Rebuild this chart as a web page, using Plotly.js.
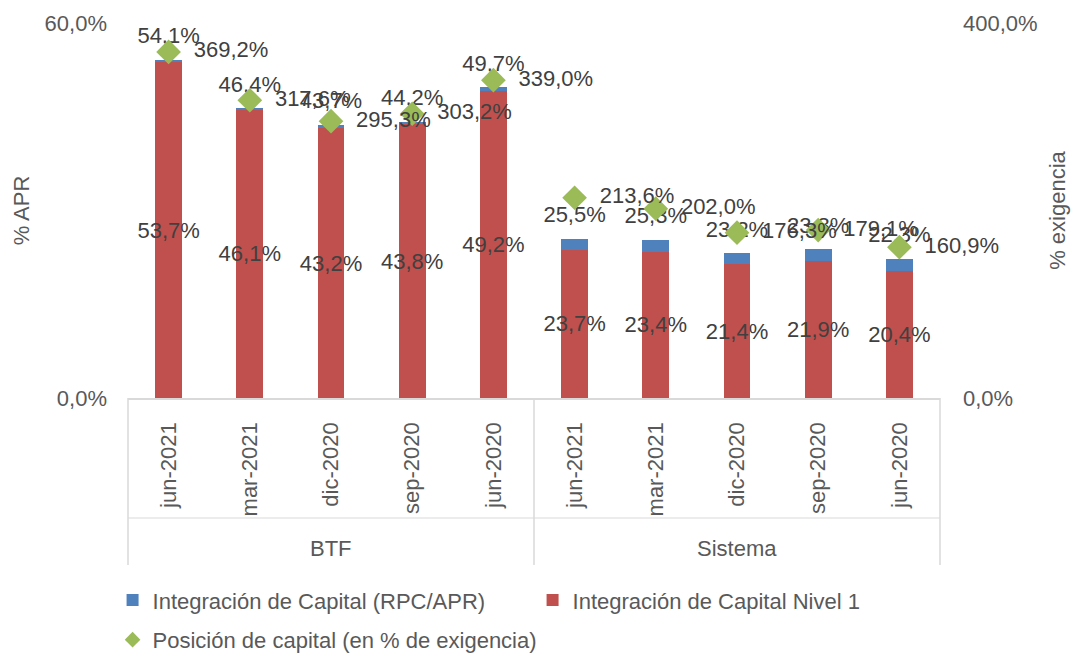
<!DOCTYPE html>
<html><head><meta charset="utf-8">
<script src="https://cdn.plot.ly/plotly-3.0.1.min.js"></script>
<style>html,body{margin:0;padding:0;background:#fff}#chart{width:1075px;height:653px}</style>
</head><body><div id="chart"></div>
<script>
const groups = ['BTF', 'Sistema'];
const periods = ['jun-2021', 'mar-2021', 'dic-2020', 'sep-2020', 'jun-2020'];
const btfRpcApr = [54.1, 46.4, 43.7, 44.2, 49.7];
const btfNivel1 = [53.7, 46.1, 43.2, 43.8, 49.2];
const btfPosicion = [369.2, 317.6, 295.3, 303.2, 339.0];
const sisRpcApr = [25.5, 25.3, 23.2, 23.8, 22.3];
const sisNivel1 = [23.7, 23.4, 21.4, 21.9, 20.4];
const sisPosicion = [213.6, 202.0, 176.3, 179.1, 160.9];
const leftTicks = [0, 60];
const rightTicks = [0, 400];
const seriesNames = ['Integración de Capital (RPC/APR)', 'Integración de Capital Nivel 1', 'Posición de capital (en % de exigencia)'];

const rpc = btfRpcApr.concat(sisRpcApr);
const n1 = btfNivel1.concat(sisNivel1);
const pos = btfPosicion.concat(sisPosicion);
const tickText = periods.concat(periods);
const xs = tickText.map((_, i) => i);
const diff = rpc.map((v, i) => +(v - n1[i]).toFixed(2));
const fmt = v => v.toFixed(1).replace('.', ',') + '%';
const nb = '\u00A0\u00A0';

const FONT = 'Liberation Sans, Arial, sans-serif';
const LBL = '#404040', AX = '#595959', LINE = '#d9d9d9';

const traces = [
  { type: 'bar', x: xs, y: n1, name: seriesNames[1], legendrank: 2,
    marker: { color: '#c0504d', line: { width: 0 } }, width: 0.33,
    text: n1.map(fmt), textposition: 'inside', insidetextanchor: 'middle',
    constraintext: 'none', textangle: 0,
    insidetextfont: { family: FONT, size: 22, color: LBL }, hoverinfo: 'skip' },
  { type: 'bar', x: xs, y: diff, name: seriesNames[0], legendrank: 1,
    marker: { color: '#4f81bd', line: { width: 0 } }, width: 0.33,
    hoverinfo: 'skip' },
  { type: 'scatter', mode: 'markers+text', x: xs, y: rpc, showlegend: false,
    marker: { size: 16, color: 'rgba(0,0,0,0)' }, text: rpc.map(fmt),
    textposition: 'top center', textfont: { family: FONT, size: 22, color: LBL },
    cliponaxis: false, hoverinfo: 'skip' },
  { type: 'scatter', mode: 'markers+text', x: xs, y: pos, yaxis: 'y2',
    name: seriesNames[2], legend: 'legend2',
    marker: { symbol: 'diamond', size: 19, color: '#9bbb59', line: { width: 0 } },
    text: pos.map(v => nb + fmt(v)), textposition: 'middle right',
    textfont: { family: FONT, size: 22, color: LBL }, cliponaxis: false, hoverinfo: 'skip' }
];

const groupCenters = groups.map((g, gi) => gi * periods.length + (periods.length - 1) / 2);

const layout = {
  width: 1075, height: 653,
  margin: { l: 128, r: 135, t: 23, b: 255, autoexpand: false },
  paper_bgcolor: '#fff', plot_bgcolor: '#fff',
  barmode: 'stack', separators: ',.',
  font: { family: FONT, size: 22, color: AX },
  showlegend: true,
  xaxis: { type: 'linear', range: [-0.5, 9.5], tickvals: xs, ticktext: tickText,
    tickangle: -90, showgrid: false, zeroline: false, showline: true, linecolor: LINE, linewidth: 1.5,
    ticks: '', ticklabelstandoff: 14, tickfont: { family: FONT, size: 22, color: AX }, automargin: false, fixedrange: true },
  yaxis: { range: [0, 60], tickvals: leftTicks, ticktext: leftTicks.map(fmt),
    showgrid: true, gridcolor: LINE, gridwidth: 1.5, zeroline: false, showline: false, ticks: '',
    ticklabelstandoff: 20, tickfont: { family: FONT, size: 22, color: AX },
    title: { text: '% APR', font: { family: FONT, size: 22, color: AX }, standoff: 8 }, automargin: false },
  yaxis2: { range: [0, 400], tickvals: rightTicks, ticktext: rightTicks.map(fmt),
    overlaying: 'y', side: 'right', showgrid: false, zeroline: false, showline: false, ticks: '',
    ticklabelstandoff: 22, tickfont: { family: FONT, size: 22, color: AX },
    title: { text: '% exigencia', font: { family: FONT, size: 22, color: AX }, standoff: 12 }, automargin: false },
  legend: { orientation: 'h', x: -0.019, xanchor: 'left', y: -0.539, yanchor: 'middle',
    entrywidth: 375, font: { family: FONT, size: 22, color: AX }, bgcolor: 'rgba(0,0,0,0)', traceorder: 'normal' },
  legend2: { orientation: 'h', x: -0.019, xanchor: 'left', y: -0.645, yanchor: 'middle',
    itemsizing: 'constant', font: { family: FONT, size: 22, color: AX }, bgcolor: 'rgba(0,0,0,0)' },
  annotations: groups.map((g, gi) => ({ text: g, x: groupCenters[gi], xref: 'x', y: -0.4, yref: 'paper',
    showarrow: false, font: { family: FONT, size: 22, color: AX }, xanchor: 'center', yanchor: 'middle' })),
  shapes: [
    { type: 'line', xref: 'paper', x0: 0, x1: 0, yref: 'paper', y0: 0, y1: -0.445, line: { color: LINE, width: 1.5 } },
    { type: 'line', xref: 'paper', x0: 1, x1: 1, yref: 'paper', y0: 0, y1: -0.445, line: { color: LINE, width: 1.5 } },
    { type: 'line', xref: 'x', x0: periods.length - 0.5, x1: periods.length - 0.5, yref: 'paper', y0: 0, y1: -0.445, line: { color: LINE, width: 1.5 } },
    { type: 'line', xref: 'paper', x0: 0, x1: 1, yref: 'paper', y0: -0.32, y1: -0.32, line: { color: LINE, width: 1 } }
  ]
};

Plotly.newPlot('chart', traces, layout, { staticPlot: true, displayModeBar: false });
</script></body></html>
